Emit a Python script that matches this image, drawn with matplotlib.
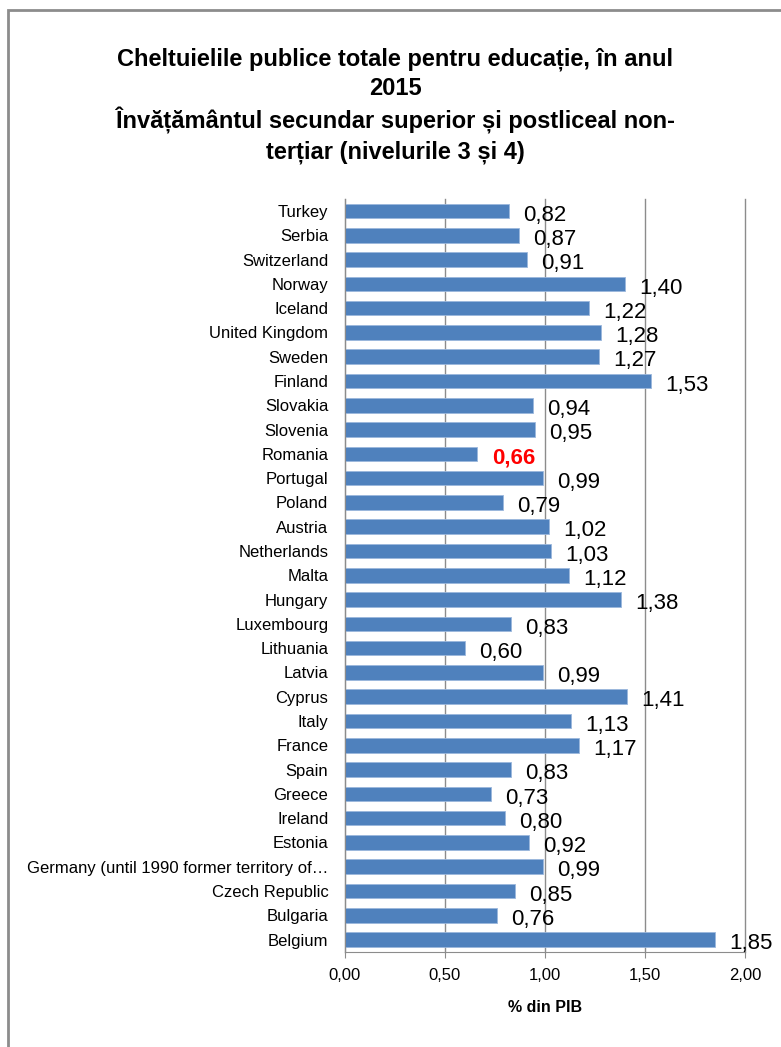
import matplotlib.pyplot as plt
from matplotlib.patches import Rectangle

countries = ['Turkey', 'Serbia', 'Switzerland', 'Norway', 'Iceland', 'United Kingdom',
             'Sweden', 'Finland', 'Slovakia', 'Slovenia', 'Romania', 'Portugal', 'Poland',
             'Austria', 'Netherlands', 'Malta', 'Hungary', 'Luxembourg', 'Lithuania',
             'Latvia', 'Cyprus', 'Italy', 'France', 'Spain', 'Greece', 'Ireland', 'Estonia',
             'Germany (until 1990 former territory of\u2026', 'Czech Republic', 'Bulgaria',
             'Belgium']
values = [0.82, 0.87, 0.91, 1.40, 1.22, 1.28, 1.27, 1.53, 0.94, 0.95, 0.66, 0.99, 0.79,
          1.02, 1.03, 1.12, 1.38, 0.83, 0.60, 0.99, 1.41, 1.13, 1.17, 0.83, 0.73, 0.80,
          0.92, 0.99, 0.85, 0.76, 1.85]
highlight = 'Romania'
xticks = [0, 0.5, 1.0, 1.5, 2.0]

plt.rcParams['font.family'] = ['Liberation Sans Narrow', 'Liberation Sans', 'DejaVu Sans']

fig = plt.figure(figsize=(7.81, 10.47), dpi=100)
ax = fig.add_axes([0.4417, 0.091, 0.5122, 0.719])

# outer chart frame
fig.patches.append(Rectangle((8 / 781, -0.01), 1.0, 1 - 10 / 1047 + 0.01,
                             transform=fig.transFigure, fill=False,
                             edgecolor='#8c8c8c', linewidth=2))

y = list(range(len(countries)))
ax.barh(y, values, height=0.6, color='#4f81bd', edgecolor='#9bb7dc', linewidth=0.6, zorder=2)

for i, (c, v) in enumerate(zip(countries, values)):
    lbl = f'{v:.2f}'.replace('.', ',')
    if c == highlight:
        ax.annotate(lbl, (v, i), xytext=(11, -3), textcoords='offset points',
                    va='center', ha='left', fontsize=16, color='red', fontweight='bold')
    else:
        ax.annotate(lbl, (v, i), xytext=(10, -3), textcoords='offset points',
                    va='center', ha='left', fontsize=16, color='black')

ax.set_ylim(len(countries) - 0.5, -0.5)
ax.set_yticks(y)
ax.set_yticklabels(countries, fontsize=12)
ax.set_xlim(0, 2)
ax.set_xticks(xticks)
ax.set_xticklabels([f'{t:.2f}'.replace('.', ',') for t in xticks], fontsize=12)
ax.tick_params(axis='y', length=0, pad=12)
ax.tick_params(axis='x', length=4, color='#8c8c8c', pad=8)
ax.grid(axis='x', color='#8c8c8c', linewidth=1, zorder=0)
for gl in ax.get_xgridlines():
    gl.set_clip_on(False)
ax.set_axisbelow(True)
for s in ['top', 'right']:
    ax.spines[s].set_visible(False)
for s in ['left', 'bottom']:
    ax.spines[s].set_color('#8c8c8c')

ax.set_xlabel('% din PIB', fontsize=11.5, fontweight='bold', labelpad=12)

fig.text(0.506, 0.955,
         'Cheltuielile publice totale pentru educa\u021bie, \u00een anul\n2015\n'
         '\u00cenv\u0103\u021b\u0103m\u00e2ntul secundar superior \u0219i postliceal non-\n'
         'ter\u021biar (nivelurile 3 \u0219i 4)',
         ha='center', va='top', fontsize=17, fontweight='bold', linespacing=1.35)

plt.savefig('out.png', dpi=100)
